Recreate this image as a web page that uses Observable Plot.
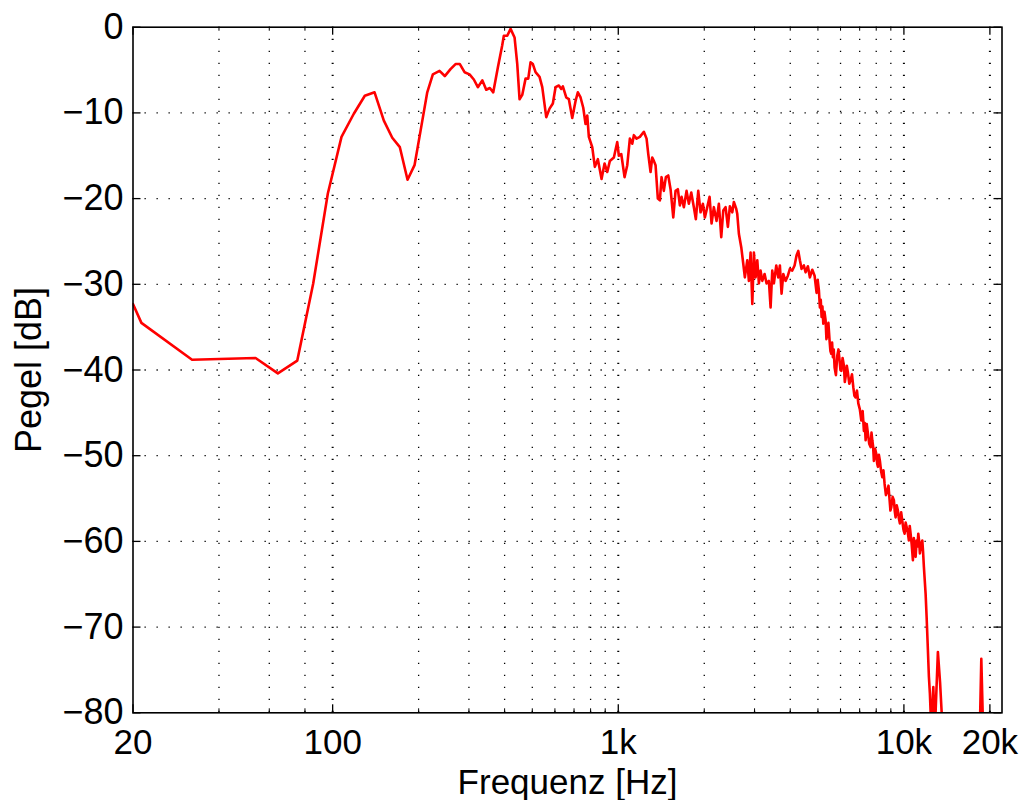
<!DOCTYPE html>
<html><head><meta charset="utf-8">
<script src="https://cdn.jsdelivr.net/npm/d3@7"></script>
<script src="https://cdn.jsdelivr.net/npm/@observablehq/plot@0.6"></script>
<style>
body{margin:0;background:#fff;}
#chart svg{display:block;}
</style></head><body><div id="chart"></div>
<script>
// Segment 1: 20 Hz – 2 kHz
const lowFreqHz = [
20, 21.4, 32.2, 53.7, 64.3, 75.2, 85.5, 96.2, 107.4, 118.6, 129.6, 140.2, 151.1, 161.7, 171.9, 182.9, 193.5,
203.1, 214.4, 224.3, 236.7, 247.0, 258.6, 269.3, 278.8, 289.6, 301.5,
312.1, 322.4, 334.1, 344.9, 355.1, 365.0, 378.8, 392.4, 397.5, 408.6,
419.7, 433.4, 442.9, 451.2, 461.1, 473.6, 484.0, 493.0, 502.3, 513.3,
530.1, 541.8, 559.5, 574.6, 590.1, 603.1, 619.4, 631.5, 639.7, 657.4,
671.4, 690.0, 708.7, 721.8, 737.8, 754.0, 768.1, 778.7, 788.8, 810.7,
827.9, 848.3, 873.9, 895.3, 915.1, 934.4, 965.1, 991.8, 1004.7, 1024.3,
1051.9, 1075.1, 1097.9, 1119.3, 1133.9, 1158.9, 1190.0, 1229.0, 1256.2, 1273.5,
1297.3, 1315.0, 1332.1, 1350.6, 1375.7, 1398.1, 1417.5, 1443.9, 1467.4, 1496.0,
1524.1, 1557.8, 1586.8, 1616.6, 1642.9, 1665.4, 1696.7, 1733.9, 1766.5, 1800.9,
1839.1, 1869.0, 1905.5, 1941.0, 1977.6
];
const lowLevelDb = [
-32.3, -34.5, -38.8, -38.6, -40.4, -38.9, -29.9, -19.4, -12.8, -10.1, -8.0, -7.6, -10.9, -12.9, -14.0, -17.8, -16.1,
-12.1, -7.6, -5.5, -5.1, -5.7, -4.9, -4.3, -4.3, -5.25, -5.5,
-6.1, -7.0, -6.2, -7.3, -7.1, -7.6, -4.7, -2.1, -1.0, -1.0,
-0.2, -1.2, -4.3, -8.4, -7.9, -6.0, -6.0, -4.1, -4.3, -5.25,
-5.8, -7.0, -10.5, -9.5, -8.9, -7.0, -6.8, -7.2, -6.9, -8.2,
-8.4, -10.6, -8.6, -7.6, -8.2, -9.4, -11.3, -10.3, -12.8, -14.0,
-16.3, -15.4, -17.7, -15.9, -16.9, -15.6, -15.2, -13.4, -15.0, -14.8,
-17.5, -16.1, -13.0, -13.6, -12.6, -13.0, -12.8, -12.2, -13.0, -14.8,
-16.9, -15.2, -15.6, -16.1, -20.0, -20.2, -17.5, -19.1, -17.5, -17.3,
-18.9, -22.2, -19.1, -18.9, -20.8, -19.8, -21.0, -19.1, -20.6, -19.3,
-21.0, -22.4, -19.1, -21.6, -20.6
];
// Segment 2: 2 kHz – 4.9 kHz
const midFreqHz = [
2009.7, 2049.0, 2087.4, 2121.2, 2161.0, 2208.6, 2249.8, 2293.6, 2331.0, 2374.8,
2419.4, 2458.6, 2506.8, 2539.2, 2588.8, 2609.8, 2643.6, 2695.4, 2739.0, 2774.6,
2829.0, 2865.8, 2905.4, 2945.6, 2983.8, 3025.0, 3066.8, 3106.6, 3149.4, 3192.8,
3252.6, 3305.4, 3367.2, 3413.8, 3460.0, 3505.6, 3574.0, 3632.0, 3679.2, 3729.8,
3781.4, 3852.2, 3924.4, 3988.2, 4066.2, 4142.4, 4209.8, 4268.0, 4323.4, 4383.0,
4465.0, 4526.6, 4611.4, 4686.4, 4778.0, 4867.4
];
const midLevelDb = [
-22.2, -21.0, -19.8, -22.9, -21.0, -22.6, -20.6, -24.5, -21.4, -21.0,
-23.3, -20.9, -21.6, -20.4, -21.2, -21.8, -24.1, -25.7, -27.6, -29.2,
-27.2, -29.6, -26.3, -32.3, -26.3, -29.2, -27.2, -29.9, -28.4, -29.6,
-28.8, -29.9, -29.6, -32.7, -28.4, -29.9, -27.8, -29.2, -27.8, -31.1,
-28.8, -29.6, -29.0, -28.2, -28.4, -27.8, -26.6, -26.1, -27.2, -28.2,
-27.8, -28.6, -27.9, -29.2, -28.3, -29.0
];
// Segment 3: 4.9 kHz – 22 kHz
const highFreqHz = [
4946.6, 4990, 5039.2, 5080, 5115, 5150, 5185, 5221, 5270, 5319,
5355, 5392, 5440, 5493, 5530, 5569, 5605, 5641, 5680, 5719,
5780, 5845, 5900, 5955, 5995, 6037, 6100, 6165, 6210, 6250,
6310, 6367, 6440, 6507, 6580, 6650, 6710, 6775, 6850, 6924,
7010, 7093, 7170, 7244, 7295, 7344, 7410, 7481, 7560, 7646,
7700, 7751, 7800, 7851, 7930, 8005, 8060, 8109, 8175, 8241,
8320, 8402, 8480, 8559, 8650, 8747, 8830, 8911, 8970, 9034,
9130, 9225, 9290, 9352, 9440, 9527, 9600, 9682, 9780, 9871,
9960, 10056, 10140, 10219, 10320, 10411, 10480, 10554, 10650, 10752,
10830, 10900, 10990, 11078, 11150, 11230, 11300, 11376, 11490, 11599,
11670, 11749, 11911, 12008, 12134, 12232, 12331, 12471, 12674, 12838,
13151, 13387, 13659, 13994, 15792, 18113, 18482, 18662, 18934, 19319,
22050
];
const highLevelDb = [
-31.0, -29.5, -30.7, -32.7, -31.8, -33.8, -32.6, -34.6, -33.2, -34.2,
-36.4, -35.8, -34.5, -36.6, -37.8, -38.1, -36.8, -38.5, -37.6, -39.7,
-40.6, -38.3, -37.6, -38.9, -40.0, -40.1, -38.6, -39.5, -41.4, -40.8,
-39.5, -40.3, -41.6, -41.2, -40.5, -42.0, -43.0, -43.2, -42.4, -43.9,
-44.6, -45.9, -44.8, -47.1, -46.2, -48.2, -46.3, -47.4, -48.6, -49.0,
-47.3, -48.2, -48.9, -50.6, -49.2, -49.8, -50.9, -51.3, -49.9, -50.6,
-51.8, -52.5, -51.7, -53.3, -54.6, -54.1, -53.5, -55.2, -56.4, -56.0,
-54.8, -55.2, -56.5, -57.2, -55.8, -56.4, -57.3, -57.9, -56.6, -57.6,
-58.6, -59.1, -57.8, -58.3, -59.0, -59.9, -58.2, -59.1, -60.4, -62.2,
-59.6, -60.7, -61.8, -59.9, -60.6, -59.1, -59.9, -61.4, -60.3, -59.9,
-61.2, -63.0, -66.1, -68.8, -72.7, -75.8, -77.8, -82, -77, -82,
-72.9, -76.5, -82, -90, -95, -90, -80.5, -73.7, -82, -92,
-95
];
const xTickValues = [20, 100, 1000, 10000, 20000];
const xTickLabels = ["20", "100", "1k", "10k", "20k"];
const xMinorTicks = [40, 60, 80, 200, 300, 400, 500, 600, 700, 800, 900,
  2000, 3000, 4000, 5000, 6000, 7000, 8000, 9000];
const yTickValues = [0, -10, -20, -30, -40, -50, -60, -70, -80];
const xTitle = "Frequenz [Hz]";
const yTitle = "Pegel [dB]";

const freqHz = [...lowFreqHz, ...midFreqHz, ...highFreqHz];
const levelDb = [...lowLevelDb, ...midLevelDb, ...highLevelDb];
const data = freqHz.map((f, i) => ({f, db: levelDb[i]}));

const W = 1022, H = 800, mL = 132.5, mR = 20.5, mT = 26.7, mB = 87.7;
const pw = W - mL - mR, ph = H - mT - mB;
const font = "'Liberation Sans', Arial, Helvetica, sans-serif";
const dots = {stroke: "#000", strokeWidth: 1.3, strokeDasharray: "1.3,10.7"};
const tickStyle = {stroke: "#000", strokeWidth: 1.3};

const chart = Plot.plot({
  width: W, height: H,
  marginLeft: mL, marginRight: mR, marginTop: mT, marginBottom: mB,
  style: {fontFamily: font, background: "#fff", color: "#000", overflow: "visible"},
  x: {type: "log", domain: [20, 22050]},
  y: {domain: [-80, 0]},
  marks: [
    Plot.ruleX(xMinorTicks, dots),
    Plot.ruleX(xTickValues.filter(v => v > 20), {...dots, strokeWidth: 2}),
    Plot.ruleY(yTickValues.filter(v => v > -80 && v < 0), dots),
    Plot.line(data, {x: "f", y: "db", stroke: "#ff0000", strokeWidth: 2.6, clip: true, strokeLinejoin: "round"}),
    Plot.ruleX(xTickValues, {...tickStyle, insetTop: ph - 8}),
    Plot.ruleX(xTickValues, {...tickStyle, insetBottom: ph - 8}),
    Plot.ruleX(xMinorTicks, {...tickStyle, strokeWidth: 1, insetTop: ph - 4}),
    Plot.ruleX(xMinorTicks, {...tickStyle, strokeWidth: 1, insetBottom: ph - 4}),
    Plot.ruleY(yTickValues, {...tickStyle, insetRight: pw - 8}),
    Plot.ruleY(yTickValues, {...tickStyle, insetLeft: pw - 8}),
    Plot.frame({stroke: "#000", strokeWidth: 1.6}),
    Plot.axisX(xTickValues, {tickSize: 0, tickPadding: 16, fontSize: 35, label: null,
      tickFormat: d => xTickLabels[xTickValues.indexOf(d)]}),
    Plot.axisY(yTickValues, {tickSize: 0, tickPadding: 9.5, fontSize: 36, label: null,
      tickFormat: d => d < 0 ? "\u2212" + Math.abs(d) : String(d)}),
    Plot.text([xTitle], {frameAnchor: "bottom", dy: 81.5, fontSize: 35, lineAnchor: "bottom", textAnchor: "middle", fill: "#000"}),
    Plot.text([yTitle], {frameAnchor: "left", dx: -92.5, rotate: -90, fontSize: 36, lineAnchor: "bottom", textAnchor: "middle", fill: "#000"})
  ]
});
document.getElementById("chart").appendChild(chart);
</script>
</body></html>
